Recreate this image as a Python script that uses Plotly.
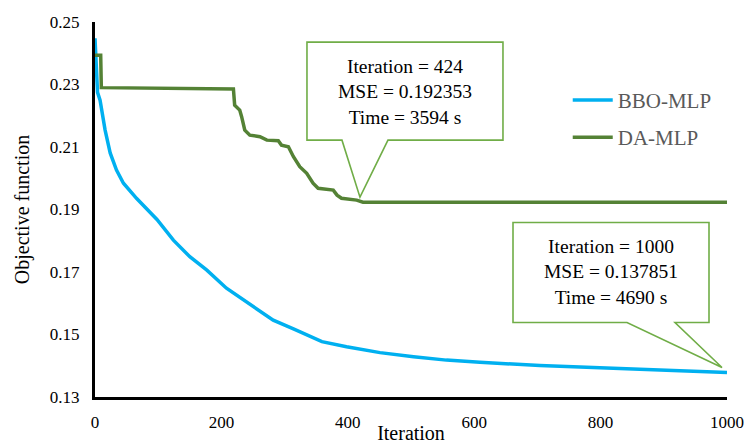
import plotly.graph_objects as go

# Convergence curves: best objective value per iteration
bbo_iter = [0, 3, 4, 8, 16, 24, 34, 45, 66, 98, 124, 150, 177, 208, 245, 282,
            314, 359, 398, 451, 504, 556, 609, 704, 862, 1000]
bbo_mse = [0.2448, 0.2285, 0.2275, 0.2250, 0.2154, 0.2081, 0.2026, 0.1984,
           0.1935, 0.1868, 0.1802, 0.1749, 0.1706, 0.1648, 0.1598, 0.1546,
           0.1518, 0.1477, 0.1461, 0.1442, 0.1429, 0.1418, 0.1411, 0.1401,
           0.1389, 0.137851]

da_iter = [0, 9, 10, 100, 219, 221, 229, 232, 237, 245, 261, 272, 290, 295,
           306, 314, 324, 335, 345, 353, 377, 383, 390, 414, 424, 1000]
da_mse = [0.2394, 0.2394, 0.2290, 0.2289, 0.2286, 0.2234, 0.2218, 0.2197,
          0.2154, 0.2138, 0.2133, 0.2122, 0.2120, 0.2106, 0.2101, 0.2069,
          0.2037, 0.2016, 0.1984, 0.1968, 0.1962, 0.1946, 0.1936, 0.1930,
          0.192353, 0.192353]

# Callout contents: (iteration, MSE, time in s)
da_best = (424, 0.192353, 3594)
bbo_best = (1000, 0.137851, 4690)

y_ticks = [0.13, 0.15, 0.17, 0.19, 0.21, 0.23, 0.25]
x_ticks = [0, 200, 400, 600, 800, 1000]

BLUE = "#00B0F0"
GREEN = "#548235"
CALLOUT = "#70AD47"
FONT = "Liberation Serif, Times New Roman, serif"

fig = go.Figure()
fig.add_trace(go.Scatter(x=bbo_iter, y=bbo_mse, mode="lines", name="BBO-MLP",
                         legendgroup="a", line=dict(color=BLUE, width=3.5)))
fig.add_trace(go.Scatter(x=da_iter, y=da_mse, mode="lines", name="DA-MLP",
                         legendgroup="b", line=dict(color=GREEN, width=3.5)))


def callout(pt, box, base, tip, text_shift):
    """Speech-bubble callout anchored on a data point, drawn in pixel offsets."""
    it, mse, t = pt
    left, right, bottom, top = box
    b0, b1 = base
    tx, ty = tip
    path = (f"M {left},{bottom} L {b0},{bottom} L {tx},{ty} L {b1},{bottom} "
            f"L {right},{bottom} L {right},{top} L {left},{top} Z")
    fig.add_shape(type="path", path=path, xref="x", yref="y",
                  xsizemode="pixel", ysizemode="pixel",
                  xanchor=it, yanchor=mse,
                  line=dict(color=CALLOUT, width=1.6),
                  fillcolor="white", layer="above")
    fig.add_annotation(x=it, y=mse, xref="x", yref="y", showarrow=False,
                       xshift=text_shift[0], yshift=text_shift[1],
                       xanchor="center", yanchor="middle", align="center",
                       text=f"Iteration = {it}<br>MSE = {mse:.6f}<br>Time = {t} s",
                       font=dict(family=FONT, size=19.5, color="black"))


callout(da_best, box=(-56, 140, 62, 160), base=(-21, 25), tip=(-3, 5),
        text_shift=(42, 110))
callout(bbo_best, box=(-214, -18, 50, 150), base=(-100, -52), tip=(-5, 5),
        text_shift=(-116, 100))

fig.update_layout(
    width=745, height=444,
    margin=dict(l=95, r=18, t=22, b=47),
    paper_bgcolor="white", plot_bgcolor="white",
    font=dict(family=FONT, color="black"),
    showlegend=True,
    legend=dict(x=0.748, y=0.846, xanchor="left", yanchor="top",
                bgcolor="rgba(0,0,0,0)", tracegroupgap=7, itemwidth=40,
                font=dict(family=FONT, size=21, color="#595959")),
    xaxis=dict(range=[0, 1000], tickvals=x_ticks, showgrid=False,
               zeroline=False, showline=True, linecolor="black", linewidth=3,
               ticks="", tickfont=dict(family=FONT, size=17),
               ticklabelstandoff=8, automargin=False,
               title=dict(text="Iteration", font=dict(family=FONT, size=20),
                          standoff=0)),
    yaxis=dict(range=[0.13, 0.25], tickvals=y_ticks, tickformat=".2f",
               showgrid=False, zeroline=False, showline=True,
               linecolor="black", linewidth=3, ticks="", automargin=False,
               tickfont=dict(family=FONT, size=17), ticklabelstandoff=9,
               title=dict(text="Objective function",
                          font=dict(family=FONT, size=20), standoff=15)),
)

fig.write_html("out.html")
